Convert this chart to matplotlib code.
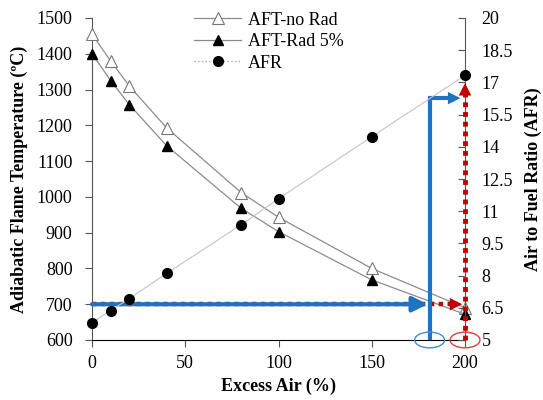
import matplotlib
matplotlib.use("Agg")
import matplotlib.pyplot as plt
from matplotlib.patches import Ellipse

plt.rcParams['font.family'] = ['Liberation Serif', 'DejaVu Serif']

# data
excess_air = [0, 10, 20, 40, 80, 100, 150, 200]
aft_no_rad = [1455, 1380, 1310, 1193, 1012, 943, 800, 690]
aft_rad5 = [1400, 1325, 1258, 1143, 968, 903, 768, 672]
afr = [5.8, 6.37, 6.93, 8.1, 10.37, 11.58, 14.47, 17.33]

x_ticks = [0, 50, 100, 150, 200]
t_ticks = [600, 700, 800, 900, 1000, 1100, 1200, 1300, 1400, 1500]
afr_ticks = [5, 6.5, 8, 9.5, 11, 12.5, 14, 15.5, 17, 18.5, 20]

# annotation values
target_temp = 700
blue_x = 181
blue_top = 1276
red_top_afr = 17.1

RED = '#c00000'
BLUE = '#1f74c2'
head = '-|>,head_length=0.9,head_width=0.45'

fig = plt.figure(figsize=(5.43, 4.0), dpi=100)
ax = fig.add_axes([0.1694, 0.15, 0.687, 0.805])
ax2 = ax.twinx()

ax.plot(excess_air, aft_no_rad, '-', color='#8c8c8c', lw=0.9, marker='^',
        ms=8, mfc='white', mec='#777777', mew=0.8, label='AFT-no Rad',
        zorder=3, clip_on=False)
ax.plot(excess_air, aft_rad5, '-', color='#8c8c8c', lw=0.9, marker='^',
        ms=7, mfc='black', mec='black', label='AFT-Rad 5%', zorder=3,
        clip_on=False)
ax2.plot(excess_air, afr, '-', color='#c4c4c4', lw=0.8, marker='o',
         ms=7, mfc='black', mec='black', zorder=3, clip_on=False)
# legend proxy for dotted AFR line
ax.plot([], [], ':', color='#aaaaaa', lw=1, marker='o', ms=7, mfc='black',
        mec='black', label='AFR')

# red dotted path
ax.plot([0, 196], [target_temp, target_temp], color=RED, lw=3.2,
        ls=(0, (1, 1)), zorder=4, clip_on=False)
ax.annotate('', xy=(200, target_temp), xytext=(192, target_temp),
            arrowprops=dict(arrowstyle=head, color=RED, lw=0), zorder=6,
            annotation_clip=False)
ax2.plot([200, 200], [5, red_top_afr - 0.6], color=RED, lw=3.5,
         ls=(0, (1, 1)), zorder=5, clip_on=False)
ax2.annotate('', xy=(200, red_top_afr), xytext=(200, red_top_afr - 1.0),
             arrowprops=dict(arrowstyle=head, color=RED, lw=0), zorder=6,
             annotation_clip=False)

# blue path
ax.annotate('', xy=(blue_x - 1, target_temp), xytext=(0, target_temp),
            arrowprops=dict(arrowstyle=head, color=BLUE, lw=3,
                            shrinkA=0, shrinkB=0), zorder=5)
ax.plot([blue_x, blue_x, 192], [600, blue_top, blue_top], '-', color=BLUE,
        lw=3, solid_joinstyle='miter', zorder=5)
ax.annotate('', xy=(199, blue_top), xytext=(190, blue_top),
            arrowprops=dict(arrowstyle=head, color=BLUE, lw=0), zorder=6)

# ellipses on the x axis
ax.add_patch(Ellipse((blue_x, 600), 16, 44, fill=False, ec='#3c8fd8', lw=1,
                     clip_on=False, zorder=6))
ax.add_patch(Ellipse((200, 600), 16, 44, fill=False, ec='#d9413a', lw=1,
                     clip_on=False, zorder=6))

ax.set_xlim(0, 200)
ax.set_ylim(600, 1500)
ax2.set_ylim(5, 20)
ax.set_xticks(x_ticks)
ax.set_yticks(t_ticks)
ax2.set_yticks(afr_ticks)
ax2.set_yticklabels([f'{v:g}' for v in afr_ticks])

for a in (ax, ax2):
    a.spines['top'].set_visible(False)
ax.spines['right'].set_visible(False)
ax2.spines['left'].set_visible(False)
ax2.spines['bottom'].set_visible(False)
ax.spines['left'].set_color('#555555')
ax2.spines['right'].set_color('#555555')
ax.spines['bottom'].set_color('black')

ax.tick_params(axis='both', direction='out', labelsize=13, length=5, color='#555555')
ax.tick_params(axis='y', pad=9)
ax.tick_params(axis='x', pad=6)
ax2.tick_params(axis='y', direction='in', labelsize=13, length=5, color='#555555', pad=12)

ax.set_xlabel('Excess Air (%)', fontsize=13, fontweight='bold')
ax.set_ylabel('Adiabatic Flame Temperature (ºC)', fontsize=13, fontweight='bold',
              labelpad=6)
ax2.set_ylabel('Air to Fuel Ratio (AFR)', fontsize=13, fontweight='bold', labelpad=8)

ax.legend(loc='upper left', bbox_to_anchor=(0.23, 1.07), frameon=False,
          fontsize=13, handlelength=2.6, labelspacing=0.25, handletextpad=0.4)

fig.savefig('out.png', dpi=100)
